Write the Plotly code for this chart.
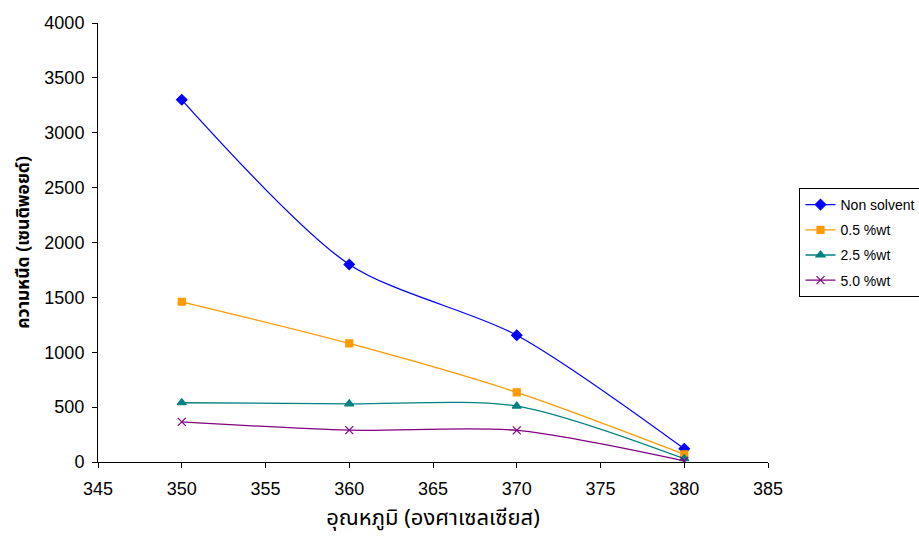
import plotly.graph_objects as go

# Temperature (°C) and viscosity (centipoise) for each solvent level
temperature = [350, 360, 370, 380]
non_solvent = [3300, 1800, 1155, 120]
wt_0_5 = [1460, 1080, 635, 70]
wt_2_5 = [540, 530, 510, 30]
wt_5_0 = [365, 290, 288, 10]

series = [
    ("Non solvent", non_solvent, "#0000FF", "diamond", 8),
    ("0.5 %wt", wt_0_5, "#FF9900", "square", 7),
    ("2.5 %wt", wt_2_5, "#008080", "triangle-up", 8),
    ("5.0 %wt", wt_5_0, "#800080", "x-thin-open", 8),
]

fig = go.Figure()
for name, vals, color, symbol, size in series:
    fig.add_trace(go.Scatter(
        x=temperature, y=vals, name=name, mode="lines+markers",
        legendgroup=name,
        line=dict(color=color, width=1.3, shape="spline", smoothing=0.8),
        marker=dict(symbol=symbol, size=size, color=color,
                    line=dict(color=color, width=1.2)),
    ))

font_family = "Liberation Sans, Arial, sans-serif"
thai_font = "Noto Sans Thai, Loma, Garuda, Tahoma, Liberation Sans, sans-serif"

fig.update_layout(
    width=919, height=538,
    margin=dict(l=98, r=151, t=23, b=76, autoexpand=False),
    paper_bgcolor="white", plot_bgcolor="white",
    font=dict(family=font_family, size=18, color="black"),
    showlegend=True,
    legend=dict(
        x=1.047, y=0.50, xanchor="left", yanchor="middle",
        bordercolor="black", borderwidth=1, bgcolor="white",
        font=dict(size=14, family=font_family),
        tracegroupgap=4, itemwidth=30,
    ),
    xaxis=dict(
        range=[345, 385], tickmode="linear", tick0=345, dtick=5,
        showgrid=False, zeroline=False, showline=True, linecolor="black",
        linewidth=1, ticks="outside", ticklen=5, tickcolor="black",
        tickfont=dict(size=18), ticklabelstandoff=5,
        title=dict(text="อุณหภูมิ (องศาเซลเซียส)",
                   font=dict(size=22, family=thai_font), standoff=12),
    ),
    yaxis=dict(
        range=[0, 4000], tickmode="linear", tick0=0, dtick=500,
        showgrid=False, zeroline=False, showline=True, linecolor="black",
        linewidth=1, ticks="outside", ticklen=5, tickcolor="black",
        tickfont=dict(size=18), ticklabelstandoff=4,
        title=dict(text="<b>ความหนืด (เซนติพอยด์)</b>",
                   font=dict(size=17.5, family=thai_font), standoff=10),
    ),
)

fig.write_html("out.html")
